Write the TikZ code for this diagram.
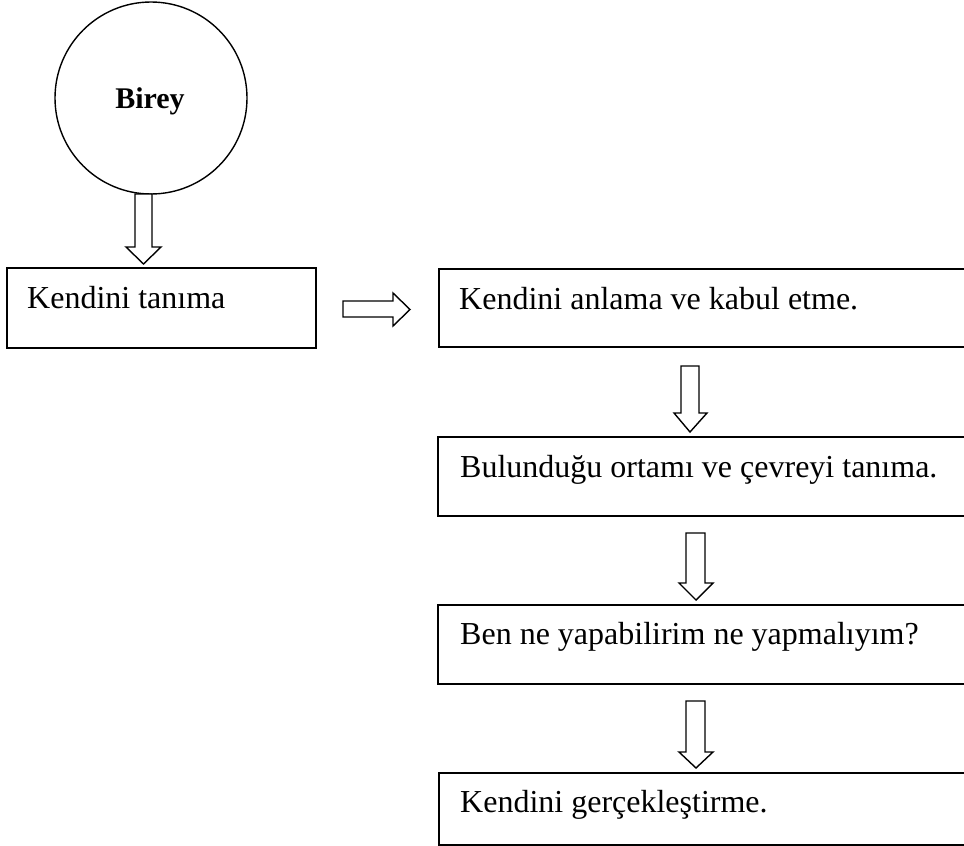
\documentclass[tikz,border=0pt]{standalone}
\usepackage{fontspec}
\setmainfont{Liberation Serif}
\usetikzlibrary{calc}
\begin{document}
\begin{tikzpicture}[x=1pt,y=-1pt,
  boxshape/.style={draw, line width=2pt},
  txt/.style={anchor=base west, inner sep=0pt, font=\fontsize{32}{38}\selectfont},
  blockarrow/.style={draw, line width=1.4pt, fill=white, line join=miter}]
\useasboundingbox (0,0) rectangle (964,846);
\clip (0,0) rectangle (964,846);
% circle
\node[draw, circle, line width=1.4pt, minimum size=192pt, inner sep=0pt] (birey) at (151,98) {};
\node[anchor=base, inner sep=0pt, font=\fontsize{30}{36}\selectfont\bfseries] (bireyt) at (150,108) {Birey};
% boxes
\draw[boxshape] (7,268) rectangle (316,348);
\node[txt] (t1) at (27,308) {Kendini tanıma};
\draw[boxshape] (439,269) rectangle (990,347);
\node[txt] (t2) at (459,309) {Kendini anlama ve kabul etme.};
\draw[boxshape] (438,437) rectangle (990,516);
\node[txt] (t3) at (460,477) {Bulunduğu ortamı ve çevreyi tanıma.};
\draw[boxshape] (438,605) rectangle (990,684);
\node[txt] (t4) at (460,644) {Ben ne yapabilirim ne yapmalıyım?};
\draw[boxshape] (439,773) rectangle (990,845);
\node[txt] (t5) at (460,812) {Kendini gerçekleştirme.};
% arrows
\draw[blockarrow] (135,194) -- (135,247) -- (126,247) -- (143.5,264) -- (161,247) -- (152,247) -- (152,194) -- cycle;
\draw[blockarrow] (343,301) -- (393,301) -- (393,293) -- (410,309.5) -- (393,326) -- (393,317) -- (343,317) -- cycle;
\draw[blockarrow] (681,366) -- (681,413) -- (674,413) -- (690,432) -- (707,413) -- (699,413) -- (699,366) -- cycle;
\draw[blockarrow] (686,533) -- (686,583) -- (679,583) -- (696,600) -- (713,583) -- (705,583) -- (705,533) -- cycle;
\draw[blockarrow] (686,701) -- (686,752) -- (679,752) -- (696,768) -- (713,752) -- (705,752) -- (705,701) -- cycle;
\end{tikzpicture}
\end{document}
